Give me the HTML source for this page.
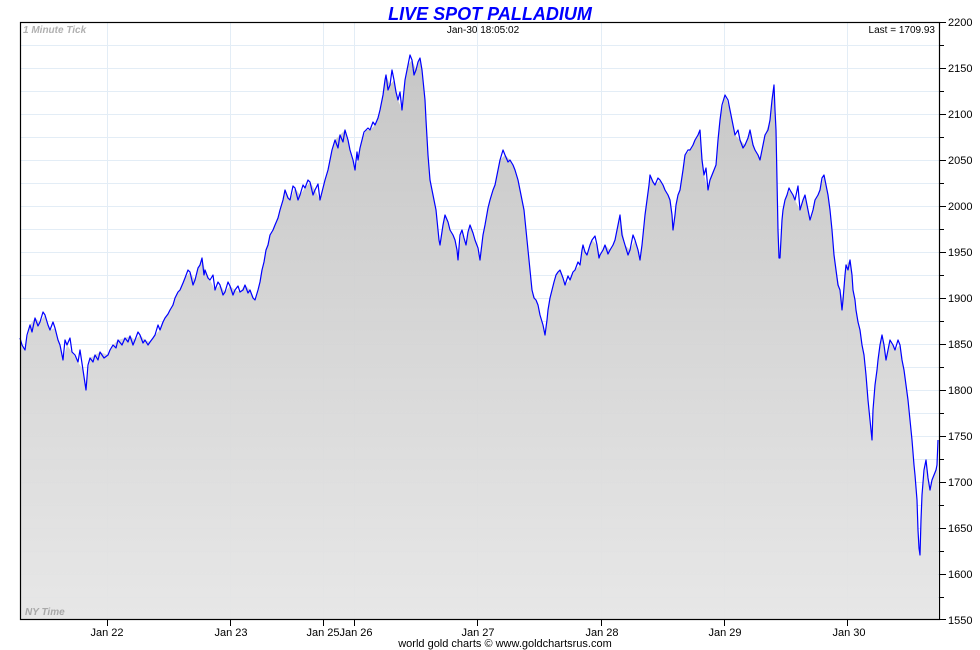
<!DOCTYPE html>
<html><head><meta charset="utf-8"><style>
html,body{margin:0;padding:0;background:#fff;}
svg{display:block;font-family:"Liberation Sans",Arial,sans-serif;}
</style></head><body>
<svg width="980" height="650" viewBox="0 0 980 650" xmlns="http://www.w3.org/2000/svg">
<defs>
<linearGradient id="g" x1="0" y1="0" x2="0" y2="1">
<stop offset="0" stop-color="#c4c4c4"/><stop offset="1" stop-color="#e6e6e6"/>
</linearGradient>
</defs>
<rect x="20" y="22" width="920" height="598" fill="#fff"/>
<g stroke="#e3edf6" stroke-width="1">
<line x1="20" x2="940" y1="45.5" y2="45.5"/><line x1="20" x2="940" y1="68.5" y2="68.5"/><line x1="20" x2="940" y1="91.5" y2="91.5"/><line x1="20" x2="940" y1="114.5" y2="114.5"/><line x1="20" x2="940" y1="137.5" y2="137.5"/><line x1="20" x2="940" y1="160.5" y2="160.5"/><line x1="20" x2="940" y1="183.5" y2="183.5"/><line x1="20" x2="940" y1="206.5" y2="206.5"/><line x1="20" x2="940" y1="229.5" y2="229.5"/><line x1="20" x2="940" y1="252.5" y2="252.5"/><line x1="20" x2="940" y1="275.5" y2="275.5"/><line x1="20" x2="940" y1="298.5" y2="298.5"/><line x1="20" x2="940" y1="321.5" y2="321.5"/><line x1="20" x2="940" y1="344.5" y2="344.5"/><line x1="20" x2="940" y1="367.5" y2="367.5"/><line x1="20" x2="940" y1="390.5" y2="390.5"/><line x1="20" x2="940" y1="413.5" y2="413.5"/><line x1="20" x2="940" y1="436.5" y2="436.5"/><line x1="20" x2="940" y1="459.5" y2="459.5"/><line x1="20" x2="940" y1="482.5" y2="482.5"/><line x1="20" x2="940" y1="505.5" y2="505.5"/><line x1="20" x2="940" y1="528.5" y2="528.5"/><line x1="20" x2="940" y1="551.5" y2="551.5"/><line x1="20" x2="940" y1="574.5" y2="574.5"/><line x1="20" x2="940" y1="597.5" y2="597.5"/>
<line x1="107.5" x2="107.5" y1="22" y2="620"/><line x1="230.5" x2="230.5" y1="22" y2="620"/><line x1="323.5" x2="323.5" y1="22" y2="620"/><line x1="354.5" x2="354.5" y1="22" y2="620"/><line x1="477.5" x2="477.5" y1="22" y2="620"/><line x1="601.5" x2="601.5" y1="22" y2="620"/><line x1="724.5" x2="724.5" y1="22" y2="620"/><line x1="847.5" x2="847.5" y1="22" y2="620"/>
</g>
<path fill="url(#g)" opacity="0.95" d="M20,620 L20,338 25,350 30,325 35,318 40,322 45,315 50,330 55,328 60,345 63,360 67,345 72,352 78,362 83,370 86,390 90,358 95,355 100,352 108,355 113,345 118,340 125,338 130,336 135,340 140,335 145,340 150,342 155,335 160,330 165,318 170,310 175,298 180,290 185,278 190,272 195,280 198,268 202,258 205,270 210,280 215,290 220,285 225,292 230,286 235,290 240,292 245,285 250,290 255,300 258,290 262,270 266,250 270,235 275,225 280,210 285,190 290,200 295,188 300,195 305,188 310,182 315,190 320,200 325,180 330,160 335,140 340,135 345,130 350,150 355,170 358,160 362,140 366,130 370,130 375,125 380,110 383,95 386,75 390,85 394,80 398,100 402,110 405,80 408,65 412,60 416,70 420,58 423,80 426,120 430,180 434,200 437,220 440,245 445,215 450,230 455,240 458,260 462,230 466,245 470,225 475,240 480,260 485,225 490,200 495,185 500,160 505,155 510,160 515,170 520,190 524,210 528,250 532,290 536,300 540,315 545,335 548,310 552,290 556,275 560,270 565,285 570,280 575,270 580,265 583,245 587,255 592,240 597,245 600,255 605,245 610,250 615,240 620,215 625,245 630,250 635,240 640,260 643,235 647,200 650,175 655,185 660,180 665,190 670,200 673,230 676,205 680,190 685,155 690,150 695,140 700,130 704,175 708,190 712,175 716,165 720,120 725,95 730,110 735,135 740,140 745,145 750,130 755,150 760,160 765,135 770,120 774,85 776,130 778,230 780,258 783,210 787,195 790,190 795,200 800,210 805,195 810,220 815,200 820,190 824,175 828,195 832,230 836,270 840,290 843,300 846,265 850,260 853,290 856,310 860,330 864,355 868,400 872,440 875,385 878,360 882,335 886,360 890,340 895,350 900,345 904,370 908,400 912,440 915,475 918,530 920,555 922,495 926,460 930,490 934,475 937,465 938,473 L938,620 Z"/>
<polyline fill="none" stroke="#0000ff" stroke-width="1.2" stroke-linejoin="round" points="20,338 22,345 25,350 27,335 30,325 32,332 35,318 38,326 40,322 43,312 45,315 48,325 50,330 53,322 55,328 58,340 60,345 63,360 65,340 67,345 70,338 72,352 75,355 78,362 80,350 83,370 86,390 88,365 90,358 93,362 95,355 98,360 100,352 104,358 108,355 110,350 113,345 116,348 118,340 122,345 125,338 128,342 130,336 133,345 135,340 138,332 140,335 143,343 145,340 148,345 150,342 153,338 155,335 158,325 160,330 163,322 165,318 168,314 170,310 173,305 175,298 178,292 180,290 183,283 185,278 188,270 190,272 193,285 195,280 198,268 200,265 202,258 204,275 205,270 208,278 210,280 213,275 215,290 218,282 220,285 223,295 225,292 228,282 230,286 233,295 235,290 238,286 240,292 243,290 245,285 248,293 250,290 253,298 255,300 258,290 260,282 262,270 264,262 266,250 268,245 270,235 273,230 275,225 278,218 280,210 283,200 285,190 288,198 290,200 293,186 295,188 298,200 300,195 303,185 305,188 308,180 310,182 313,195 315,190 318,184 320,200 323,188 325,180 328,170 330,160 332,150 335,140 338,148 340,135 343,142 345,130 348,140 350,150 353,160 355,170 357,152 358,160 360,148 362,140 364,132 366,130 368,128 370,130 373,122 375,125 378,118 380,110 382,100 383,95 385,80 386,75 388,90 390,85 392,70 394,80 396,92 398,100 400,92 402,110 404,90 405,80 407,70 408,65 410,55 412,60 414,75 416,70 418,62 420,58 422,70 423,80 425,100 426,120 428,155 430,180 432,190 434,200 436,210 437,220 439,240 440,245 443,225 445,215 448,222 450,230 453,235 455,240 457,250 458,260 460,235 462,230 464,238 466,245 468,232 470,225 473,233 475,240 478,248 480,260 483,235 485,225 488,208 490,200 493,190 495,185 498,170 500,160 503,150 505,155 508,162 510,160 513,165 515,170 518,180 520,190 522,200 524,210 526,230 528,250 530,270 532,290 534,298 536,300 538,305 540,315 543,325 545,335 547,320 548,310 550,298 552,290 554,282 556,275 558,272 560,270 563,278 565,285 568,276 570,280 573,272 575,270 578,262 580,265 582,250 583,245 585,252 587,255 590,245 592,240 595,236 597,245 599,258 600,255 603,250 605,245 608,254 610,250 613,245 615,240 618,225 620,215 622,235 625,245 628,255 630,250 633,235 635,240 638,250 640,260 642,245 643,235 645,215 647,200 649,185 650,175 653,182 655,185 658,178 660,180 663,185 665,190 668,195 670,200 672,215 673,230 675,215 676,205 678,195 680,190 683,170 685,155 688,150 690,150 693,145 695,140 698,135 700,130 702,160 704,175 706,168 708,190 710,180 712,175 714,170 716,165 718,140 720,120 722,105 725,95 728,100 730,110 733,125 735,135 738,130 740,140 743,148 745,145 748,138 750,130 753,145 755,150 758,155 760,160 763,145 765,135 768,130 770,120 772,100 774,85 775,110 776,130 777,180 778,230 779,258 780,258 782,220 783,210 785,200 787,195 789,188 790,190 793,195 795,200 798,186 800,210 803,200 805,195 808,210 810,220 813,210 815,200 818,195 820,190 822,178 824,175 826,185 828,195 830,210 832,230 834,255 836,270 838,285 840,290 842,310 843,300 845,275 846,265 848,270 850,260 852,275 853,290 855,300 856,310 858,322 860,330 862,345 864,355 866,375 868,400 870,420 872,440 873,410 875,385 877,370 878,360 880,345 882,335 884,345 886,360 888,350 890,340 893,345 895,350 898,340 900,345 902,360 904,370 906,385 908,400 910,420 912,440 914,465 915,475 917,500 918,530 919,548 920,555 921,520 922,495 924,470 926,460 928,478 930,490 932,480 934,475 936,470 937,465 938,440"/>
<rect x="20.5" y="22.5" width="919" height="597" fill="none" stroke="#000" stroke-width="1.2"/>
<g stroke="#000" stroke-width="1">
<line x1="940" x2="946" y1="22.5" y2="22.5"/><line x1="940" x2="944" y1="45.5" y2="45.5"/><line x1="940" x2="946" y1="68.5" y2="68.5"/><line x1="940" x2="944" y1="91.5" y2="91.5"/><line x1="940" x2="946" y1="114.5" y2="114.5"/><line x1="940" x2="944" y1="137.5" y2="137.5"/><line x1="940" x2="946" y1="160.5" y2="160.5"/><line x1="940" x2="944" y1="183.5" y2="183.5"/><line x1="940" x2="946" y1="206.5" y2="206.5"/><line x1="940" x2="944" y1="229.5" y2="229.5"/><line x1="940" x2="946" y1="252.5" y2="252.5"/><line x1="940" x2="944" y1="275.5" y2="275.5"/><line x1="940" x2="946" y1="298.5" y2="298.5"/><line x1="940" x2="944" y1="321.5" y2="321.5"/><line x1="940" x2="946" y1="344.5" y2="344.5"/><line x1="940" x2="944" y1="367.5" y2="367.5"/><line x1="940" x2="946" y1="390.5" y2="390.5"/><line x1="940" x2="944" y1="413.5" y2="413.5"/><line x1="940" x2="946" y1="436.5" y2="436.5"/><line x1="940" x2="944" y1="459.5" y2="459.5"/><line x1="940" x2="946" y1="482.5" y2="482.5"/><line x1="940" x2="944" y1="505.5" y2="505.5"/><line x1="940" x2="946" y1="528.5" y2="528.5"/><line x1="940" x2="944" y1="551.5" y2="551.5"/><line x1="940" x2="946" y1="574.5" y2="574.5"/><line x1="940" x2="944" y1="597.5" y2="597.5"/><line x1="940" x2="946" y1="619.5" y2="619.5"/>
<line x1="107.5" x2="107.5" y1="620" y2="626"/><line x1="230.5" x2="230.5" y1="620" y2="626"/><line x1="323.5" x2="323.5" y1="620" y2="626"/><line x1="354.5" x2="354.5" y1="620" y2="626"/><line x1="477.5" x2="477.5" y1="620" y2="626"/><line x1="601.5" x2="601.5" y1="620" y2="626"/><line x1="724.5" x2="724.5" y1="620" y2="626"/><line x1="847.5" x2="847.5" y1="620" y2="626"/>
</g>
<g font-size="11" fill="#000">
<text x="948" y="26">2200</text><text x="948" y="72">2150</text><text x="948" y="118">2100</text><text x="948" y="164">2050</text><text x="948" y="210">2000</text><text x="948" y="256">1950</text><text x="948" y="302">1900</text><text x="948" y="348">1850</text><text x="948" y="394">1800</text><text x="948" y="440">1750</text><text x="948" y="486">1700</text><text x="948" y="532">1650</text><text x="948" y="578">1600</text><text x="948" y="624">1550</text>
</g>
<g font-size="11" fill="#000" text-anchor="middle">
<text x="107" y="636">Jan 22</text><text x="231" y="636">Jan 23</text><text x="323" y="636">Jan 25</text><text x="356" y="636">Jan 26</text><text x="478" y="636">Jan 27</text><text x="602" y="636">Jan 28</text><text x="725" y="636">Jan 29</text><text x="849" y="636">Jan 30</text>
</g>
<text x="490" y="20" font-size="18" font-weight="bold" font-style="italic" fill="#0000ff" text-anchor="middle">LIVE SPOT PALLADIUM</text>
<text x="483" y="33" font-size="10" text-anchor="middle">Jan-30  18:05:02</text>
<text x="935" y="33" font-size="10" text-anchor="end">Last = 1709.93</text>
<text x="23" y="33" font-size="10" font-weight="bold" font-style="italic" fill="#b0b0b0">1 Minute Tick</text>
<text x="25" y="615" font-size="10" font-weight="bold" font-style="italic" fill="#a8a8a8">NY Time</text>
<text x="505" y="647" font-size="11" text-anchor="middle">world gold charts © www.goldchartsrus.com</text>
</svg>
</body></html>
